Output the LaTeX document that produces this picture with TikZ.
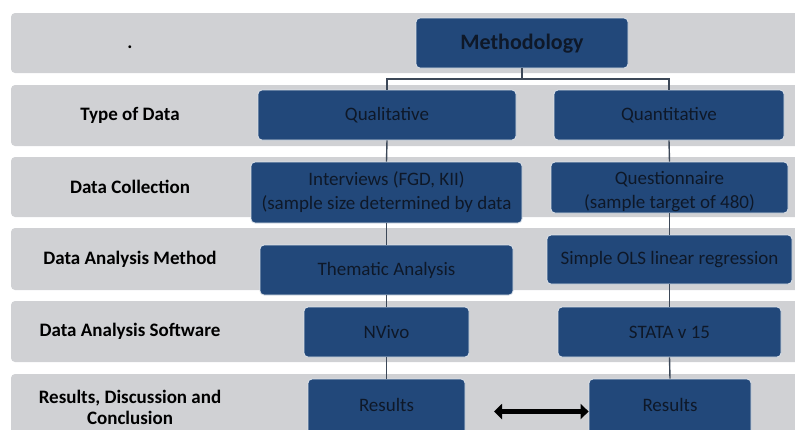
\documentclass[tikz,border=0pt]{standalone}
\usepackage{fontspec}
\setmainfont{Carlito}
\usetikzlibrary{arrows.meta}
\definecolor{band}{RGB}{208,209,212}
\definecolor{boxblue}{RGB}{34,72,122}
\definecolor{boxtext}{RGB}{14,24,40}
\definecolor{conn}{RGB}{60,72,88}
\tikzset{
  bandbox/.style={fill=band, rounded corners=4pt, draw=none, inner sep=0pt},
  bluebox/.style={fill=boxblue, draw=white!85!boxblue, line width=0.8pt, rounded corners=4pt, inner sep=0pt, text=boxtext, font=\fontsize{19}{24}\selectfont, align=center},
  rowlabel/.style={font=\bfseries\fontsize{19}{21}\selectfont, text=black, align=center, inner sep=0pt},
  connector/.style={draw=conn, line width=1.4pt},
  bothway/.style={{Triangle[length=8pt,width=15pt]}-{Triangle[length=8pt,width=15pt]}, line width=5pt, black}
}
\newcommand{\mybox}[6]{% name, x1, y1, x2, y2, style
  \node[#6, minimum width={#4-#2}, minimum height={#5-#3}] (#1) at ({(#2+#4)/2},{(#3+#5)/2}) {};}
\begin{document}
\begin{tikzpicture}[x=1pt,y=-1pt]
\useasboundingbox (0,0) rectangle (795,429);
\clip (0,0) rectangle (795,429);
% bands
\mybox{b1}{11}{13}{805}{73}{bandbox}
\mybox{b2}{11}{85}{805}{146}{bandbox}
\mybox{b3}{11}{157}{805}{217}{bandbox}
\mybox{b4}{11}{228}{805}{290}{bandbox}
\mybox{b5}{11}{301}{805}{362}{bandbox}
\mybox{b6}{11}{374}{805}{440}{bandbox}
% row labels
\node[rowlabel] (dot) at (130,47) {.};
\node[rowlabel] (l2) at (130,115) {Type of Data};
\node[rowlabel] (l3) at (130,187) {Data Collection};
\node[rowlabel] (l4) at (130,259) {Data Analysis Method};
\node[rowlabel] (l5) at (130,331) {Data Analysis Software};
\node[rowlabel] (l6) at (130,407) {Results, Discussion and\\Conclusion};
% blue boxes
\mybox{meth}{416}{18}{628}{68}{bluebox}
\node[font=\bfseries\fontsize{22}{24}\selectfont, text=boxtext] (methT) at (522,44) {Methodology};
\mybox{qual}{258}{90}{516}{140}{bluebox}
\node[bluebox, draw=none, fill=none] (qualT) at (qual) {Qualitative};
\mybox{quant}{554}{90}{784}{140}{bluebox}
\node[bluebox, draw=none, fill=none] (quantT) at (quant) {Quantitative};
\mybox{int}{251}{162}{522}{223}{bluebox}
\node[bluebox, draw=none, fill=none] (intT) at (386.5,192) {Interviews (FGD, KII)\\(sample size determined by data};
\mybox{quest}{551}{162}{788}{213}{bluebox}
\node[bluebox, draw=none, fill=none] (questT) at (669.5,192) {Questionnaire\\(sample target of 480)};
\mybox{them}{260}{245}{513}{295}{bluebox}
\node[bluebox, draw=none, fill=none] (themT) at (them) {Thematic Analysis};
\mybox{ols}{547}{235}{792}{284}{bluebox}
\node[bluebox, draw=none, fill=none] (olsT) at (ols) {Simple OLS linear regression};
\mybox{nvivo}{304}{307}{469}{357}{bluebox}
\node[bluebox, draw=none, fill=none] (nvivoT) at (nvivo) {NVivo};
\mybox{stata}{558}{307}{781}{357}{bluebox}
\node[bluebox, draw=none, fill=none] (stataT) at (stata) {STATA v 15};
\mybox{resl}{308}{379}{465}{440}{bluebox}
\node[bluebox, draw=none, fill=none] (reslT) at (386.5,405) {Results};
\mybox{resr}{589}{379}{751}{440}{bluebox}
\node[bluebox, draw=none, fill=none] (resrT) at (670,405) {Results};
% connectors
\coordinate (jn) at (522,79);
\draw[connector] (meth.south) -- (jn);
\draw[connector] (qual.north) |- (jn) -| (quant.north);
\draw[connector] (qual.south) -- (int.north);
\draw[connector] (int.south) -- (them.north);
\draw[connector] (them.south) -- (nvivo.north);
\draw[connector] (nvivo.south) -- (resl.north);
\draw[connector] (quant.south) -- (quest.north);
\draw[connector] (quest.south) -- (ols.north);
\draw[connector] (ols.south) -- (stata.north);
\draw[connector] (stata.south) -- (resr.north);
% double arrow
\coordinate (arl) at (494,411.5);
\draw[bothway] (arl) -- (arl -| resr.west);
\end{tikzpicture}
\end{document}
